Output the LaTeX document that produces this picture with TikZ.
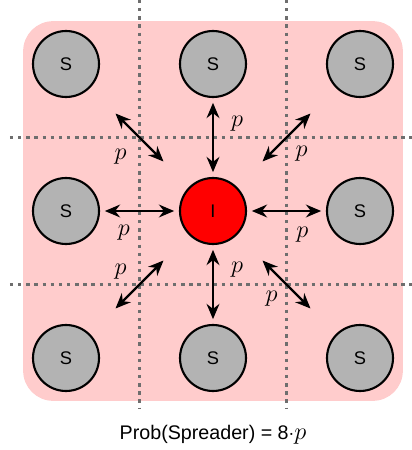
\documentclass[tikz,border=0pt]{standalone}
\usepackage{fontspec}
\setmainfont{Liberation Sans}
\usetikzlibrary{positioning,arrows.meta,fit,backgrounds,calc}
\definecolor{pinkbg}{HTML}{FFCCCC}
\definecolor{susgray}{HTML}{B3B3B3}
\definecolor{infred}{HTML}{FF0000}
\definecolor{gridgray}{HTML}{6E6E6E}

\begin{document}
\begin{tikzpicture}[
  on grid,node distance=3.675cm,
  sus/.style={circle,draw=black,line width=1.5pt,fill=susgray,minimum size=16.5mm,inner sep=0pt,font=\fontsize{13}{15}\selectfont},
  inf/.style={sus,fill=infred},
  arrow/.style={{Stealth[length=3.8mm,width=3.2mm]}-{Stealth[length=3.8mm,width=3.2mm]},line width=1.6pt,shorten <=1.2mm,shorten >=1.2mm},
  diag/.style={arrow,shorten <=9mm,shorten >=9mm},
  prob/.style={font=\fontsize{19}{20}\selectfont,inner sep=0pt},
  gridline/.style={gridgray,line width=1.5pt,dash pattern=on 2.4pt off 3.4pt}]
\useasboundingbox (-5.325,5.275) rectangle (4.975,-5.975);
\node[inf] (i) {I};
\node[sus,above=of i] (n) {S};
\node[sus,below=of i] (s) {S};
\node[sus,left=of i] (w) {S};
\node[sus,right=of i] (e) {S};
\node[sus,left=of n] (nw) {S};
\node[sus,right=of n] (ne) {S};
\node[sus,left=of s] (sw) {S};
\node[sus,right=of s] (se) {S};
\node[below=1.925cm of s,font=\fontsize{14}{16}\selectfont] (title) {Prob(Spreader) = 8${\cdot}${\fontsize{19}{20}\selectfont$p$}};
\begin{scope}[on background layer]
\node[fill=pinkbg,rounded corners=7.5mm,fit=(nw)(se),inner sep=2.2mm] (area) {};
\end{scope}
% dotted grid between the cells
\coordinate (cnw) at ($(nw)!.5!(i)$);
\coordinate (cne) at ($(ne)!.5!(i)$);
\coordinate (csw) at ($(sw)!.5!(i)$);
\foreach \c in {cnw,cne} \draw[gridline] (\c) ++(0,3.44) -- ++(0,-10.2);
\foreach \c in {cnw,csw} \draw[gridline] (\c) ++(-3.24,0) -- ++(10.3,0);
% spreading arrows
\draw[arrow] (n) -- node[prob,pos=.33,xshift=6mm]{$p$} (i);
\draw[arrow] (i) -- node[prob,pos=.31,xshift=6mm]{$p$} (s);
\draw[arrow] (w) -- node[prob,pos=.3,yshift=-5.5mm]{$p$} (i);
\draw[arrow] (i) -- node[prob,pos=.7,yshift=-6mm]{$p$} (e);
\draw[diag] (nw) -- node[prob,midway,xshift=-4.7mm,yshift=-4.7mm]{$p$} (i);
\draw[diag] (ne) -- node[prob,midway,xshift=3.75mm,yshift=-4mm]{$p$} (i);
\draw[diag] (sw) -- node[prob,midway,xshift=-4.75mm,yshift=3.25mm]{$p$} (i);
\draw[diag] (se) -- node[prob,midway,xshift=-3.75mm,yshift=-3.5mm]{$p$} (i);
\end{tikzpicture}
\end{document}
